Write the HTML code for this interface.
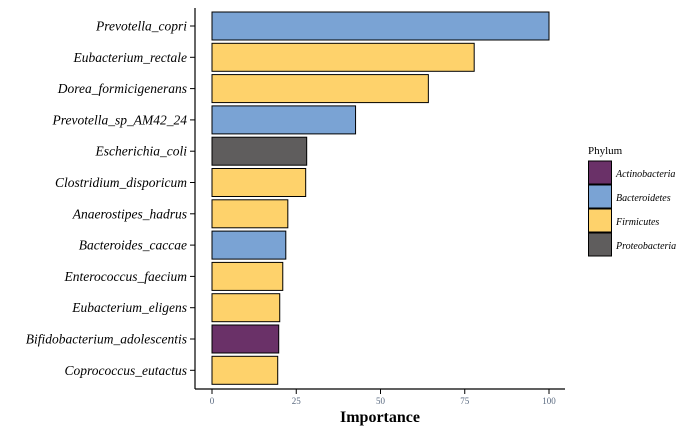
<!DOCTYPE html>
<html><head><meta charset="utf-8"><style>
body{margin:0;background:#fff}
svg text{font-family:"Liberation Serif",serif}
</style></head><body>
<svg width="700" height="432">
<g id="bars"></g>
<line x1="195" y1="8" x2="195" y2="389" stroke="#000" stroke-width="1.2"/>
<line x1="195" y1="389" x2="565" y2="389" stroke="#000" stroke-width="1.2"/>
<g id="xt"></g>
<text x="380" y="422" text-anchor="middle" font-size="16" font-weight="bold">Importance</text>
<g>
<text x="588" y="154" font-size="11">Phylum</text>
<g id="leg"></g>
</g>
</svg>
<script>
const species=["Prevotella_copri","Eubacterium_rectale","Dorea_formicigenerans","Prevotella_sp_AM42_24","Escherichia_coli","Clostridium_disporicum","Anaerostipes_hadrus","Bacteroides_caccae","Enterococcus_faecium","Eubacterium_eligens","Bifidobacterium_adolescentis","Coprococcus_eutactus"];
const importance=[100,77.8,64.2,42.6,28.1,27.8,22.5,21.9,21.0,20.1,19.8,19.5];
const phylum=["Bacteroidetes","Firmicutes","Firmicutes","Bacteroidetes","Proteobacteria","Firmicutes","Firmicutes","Bacteroidetes","Firmicutes","Firmicutes","Actinobacteria","Firmicutes"];
const phyla=["Actinobacteria","Bacteroidetes","Firmicutes","Proteobacteria"];
const xticks=[0,25,50,75,100];
const colors={Actinobacteria:"#6a3168",Bacteroidetes:"#7aa3d4",Firmicutes:"#fed26b",Proteobacteria:"#5f5d5d"};
const NS="http://www.w3.org/2000/svg";
const x=v=>212+v*3.37;
const yc=i=>26+i*31.3;
function mk(t,a,p){const e=document.createElementNS(NS,t);for(const k in a)e.setAttribute(k,a[k]);p.appendChild(e);return e;}
const bars=document.getElementById('bars');
species.forEach((s,i)=>{
 const r=mk('rect',{x:x(0),y:yc(i)-14,width:x(importance[i])-x(0),height:28,fill:colors[phylum[i]],stroke:'#000','stroke-width':1},bars);
 
 
 const tk=mk('line',{x1:190,x2:195,y1:yc(i),y2:yc(i),stroke:'#000'},bars);
 
 
 const t=mk('text',{x:187,y:yc(i)+4.5,'text-anchor':'end','font-size':13.5,'font-style':'italic'},bars);
 t.textContent=s;
 
 
});
const xt=document.getElementById('xt');
xticks.forEach(v=>{
 const l=mk('line',{x1:x(v),x2:x(v),y1:389,y2:394,stroke:'#000'},xt);
 
 
 const t=mk('text',{x:x(v),y:404,'text-anchor':'middle','font-size':9,fill:'#5a6a80'},xt);
 t.textContent=v;
 
 
});
const leg=document.getElementById('leg');
phyla.forEach((p,i)=>{
 const r=mk('rect',{x:588.5,y:161+i*24,width:23,height:23,fill:colors[p],stroke:'#000','stroke-width':1},leg);
 
 
 const t=mk('text',{x:616,y:177+i*24,'font-size':10,'font-style':'italic'},leg);
 t.textContent=p;
 
 
});
</script>
</body></html>
